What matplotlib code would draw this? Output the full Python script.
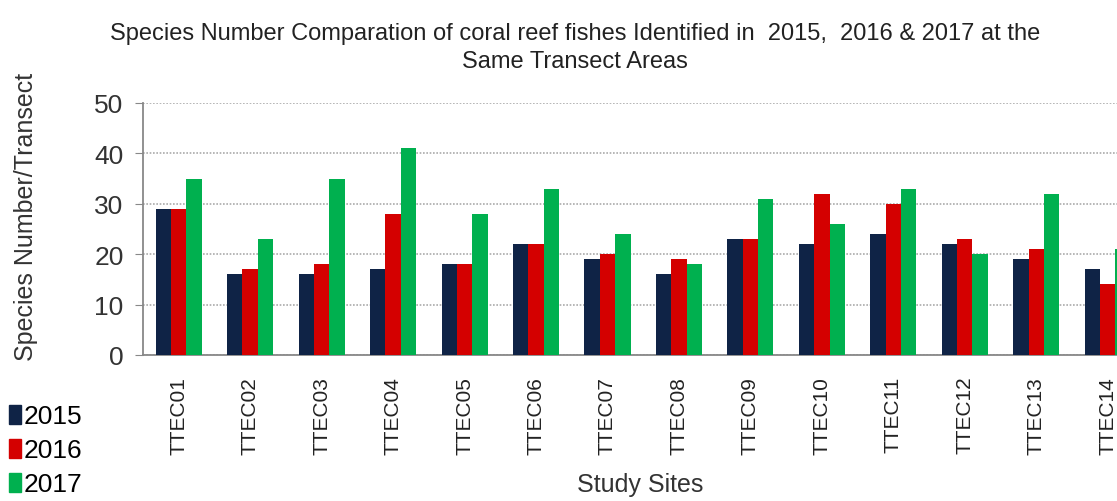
# Coral reef fish species counts per transect, grouped by year
import matplotlib.pyplot as plt
import matplotlib.patches as mpatches
import numpy as np

sites = ["TTEC01", "TTEC02", "TTEC03", "TTEC04", "TTEC05", "TTEC06", "TTEC07",
         "TTEC08", "TTEC09", "TTEC10", "TTEC11", "TTEC12", "TTEC13", "TTEC14"]
y2015 = [29, 16, 16, 17, 18, 22, 19, 16, 23, 22, 24, 22, 19, 17]
y2016 = [29, 17, 18, 28, 18, 22, 20, 19, 23, 32, 30, 23, 21, 14]
y2017 = [35, 23, 35, 41, 28, 33, 24, 18, 31, 26, 33, 20, 32, 21]

years = ["2015", "2016", "2017"]
colors = ["#0f2346", "#d40000", "#00b04f"]

plt.rcParams['font.family'] = ['Liberation Sans', 'DejaVu Sans']

fig = plt.figure(figsize=(11.17, 5.02), dpi=100)
ax = fig.add_axes([0.128, 0.291, 0.872, 0.502])

x = np.arange(len(sites))
w = 0.215
for i, (vals, col) in enumerate(zip([y2015, y2016, y2017], colors)):
    ax.bar(x + (i - 1) * w, vals, width=w, color=col, zorder=3)

ax.set_xlim(-0.5, 13.13)
ax.set_ylim(0, 50)
ax.set_yticks(range(0, 51, 10))
ax.yaxis.grid(True, linestyle=(0, (1, 1)), color='#aaaaaa', linewidth=1.2, zorder=0)

for side in ['top', 'right']:
    ax.spines[side].set_visible(False)
ax.spines['left'].set_color('#888888')
ax.spines['bottom'].set_color('#888888')
ax.spines['left'].set_linewidth(1.3)
ax.spines['bottom'].set_linewidth(1.3)

ax.set_xticks(x)
ax.set_xticklabels(sites, rotation=90, fontsize=15, color='#222222')
ax.tick_params(axis='x', length=0, pad=15)
ax.tick_params(axis='y', length=6, color='#888888', labelsize=19,
               labelcolor='#333333', pad=8)

ax.set_ylabel("Species Number/Transect", fontsize=18, color='#333333')
ax.yaxis.set_label_coords(-0.108, 0.55)
fig.text(0.573, 0.02, "Study Sites", fontsize=18, color='#333333', ha='center')

fig.text(0.515, 0.905,
         "Species Number Comparation of coral reef fishes Identified in  2015,  2016 & 2017 at the\nSame Transect Areas",
         fontsize=17, color='#222222', ha='center', va='center', linespacing=1.35)

# legend drawn as a vertical stack at the bottom left
handles = [mpatches.Patch(color=c, label=y) for c, y in zip(colors, years)]
fig.legend(handles=handles, loc='lower left', bbox_to_anchor=(-0.001, -0.012),
           frameon=False, fontsize=19, handlelength=0.42, handleheight=0.75,
           handletextpad=0.1, labelspacing=0.38, borderaxespad=0)

plt.savefig("out.png", dpi=100)
